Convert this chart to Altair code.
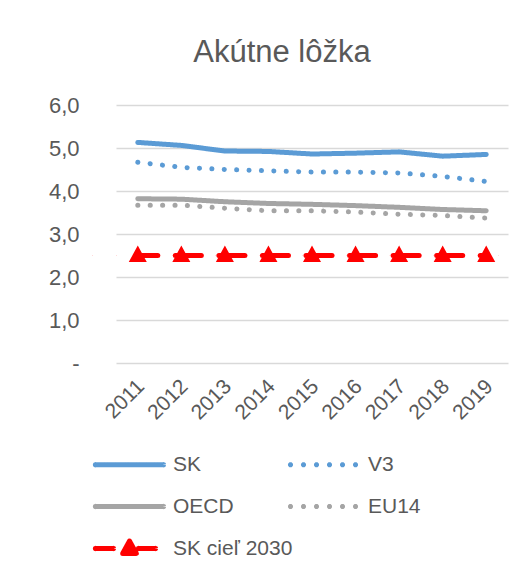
import math
import altair as alt
import pandas as pd

years = ["2011", "2012", "2013", "2014", "2015", "2016", "2017", "2018", "2019"]
sk = [5.13, 5.06, 4.93, 4.92, 4.86, 4.88, 4.91, 4.81, 4.85]
v3 = [4.67, 4.55, 4.50, 4.47, 4.44, 4.44, 4.42, 4.34, 4.22]
oecd = [3.82, 3.81, 3.75, 3.71, 3.69, 3.66, 3.62, 3.57, 3.54]
eu14 = [3.67, 3.67, 3.60, 3.54, 3.54, 3.51, 3.46, 3.43, 3.37]
target = [2.5, 2.5, 2.5, 2.5, 2.5, 2.5, 2.5, 2.5, 2.5]

SERIES = ["SK", "V3", "OECD", "EU14", "SK cieľ 2030"]
COLORS = ["#5B9BD5", "#5B9BD5", "#A5A5A5", "#A5A5A5", "#FF0000"]
TITLE = "Akútne lôžka"

rows = []
for name, vals in zip(SERIES, [sk, v3, oecd, eu14, target]):
    for yr, v in zip(years, vals):
        rows.append({"year": yr, "series": name, "value": v})
df = pd.DataFrame(rows)

FONT = "Liberation Sans Narrow, Arial Narrow, Liberation Sans, Arial"
TXT = "#595959"


def octo(cx, r):
    # small closed polygon (approximate circle) in symbol units
    pts = [(cx + r * math.cos(k * math.pi / 8), r * math.sin(k * math.pi / 8)) for k in range(16)]
    return "M" + "L".join(f"{x:.4f},{y:.4f}" for x, y in pts) + "Z"


CAP = 0.01   # tiny polygon: its 5px stroke gives a round end
DOT = 0.19   # filled dot, ~5px across at legend size
# legend / marker symbol shapes (unit-square custom paths)
LINE_PATH = "M-2.5,0H2.5" + octo(-2.5, CAP) + octo(2.5, CAP)
DOT_PATH = "".join(octo(c, DOT) for c in [-2.5, -1.544, -0.588, 0.368, 1.324, 2.28])
TRI_PATH = ("M-2.5,0H-1.18" + octo(-2.5, CAP) + octo(-1.18, CAP)
            + "M0.66,0H1.91" + octo(0.66, CAP) + octo(1.91, CAP)
            + "M-0.5,0.36L0,-0.55L0.5,0.36Z")
SHAPES = [LINE_PATH, DOT_PATH, LINE_PATH, DOT_PATH, TRI_PATH]
DASHES = [[1, 0], [0.001, 1000], [1, 0], [0.001, 1000], [1, 0]]
T = SERIES[4]

legend = alt.Legend(
    title=None,
    orient="none",
    legendX=-3,
    legendY=343,
    columns=2,
    direction="horizontal",
    symbolSize=740,
    symbolStrokeWidth=5,
    labelFont=FONT,
    labelFontSize=21,
    labelColor=TXT,
    labelOffset=27,
    columnPadding=-8,
    rowPadding=15,
    padding=0,
)

x_enc = alt.X(
    "year:O",
    scale=alt.Scale(padding=0.5),
    axis=alt.Axis(
        title=None, labelAngle=-45, labelAlign="right", labelBaseline="middle",
        domain=False, ticks=False, grid=False, labelPadding=20, labelOffset=3,
        labelFont=FONT, labelFontSize=21, labelColor=TXT,
    ),
)
y_enc = alt.Y(
    "value:Q",
    scale=alt.Scale(domain=[0, 6]),
    axis=alt.Axis(
        title=None, values=[0, 1, 2, 3, 4, 5, 6],
        labelExpr="datum.value == 0 ? '-' : replace(format(datum.value, '.1f'), '.', ',')",
        domain=False, ticks=False, labelPadding=37,
        labelFont=FONT, labelFontSize=22, labelColor=TXT,
        gridColor="#D9D9D9", gridWidth=1.5,
    ),
)
c_enc = alt.Color("series:N", scale=alt.Scale(domain=SERIES, range=COLORS), legend=legend)

base = alt.Chart(df).encode(x=x_enc, y=y_enc, color=c_enc)

solid = base.transform_filter(
    "datum.series === 'SK' || datum.series === 'OECD'"
).mark_line(strokeWidth=5, strokeCap="round", strokeJoin="round").encode(
    strokeDash=alt.StrokeDash("series:N", scale=alt.Scale(domain=SERIES, range=DASHES), legend=legend)
)

dotted = base.transform_filter(
    "datum.series === 'V3' || datum.series === 'EU14'"
).mark_line(strokeWidth=5, strokeCap="round", strokeDash=[0.1, 12.3])

tline = base.transform_filter(f"datum.series === '{T}'").mark_line(
    strokeWidth=5, strokeCap="round", strokeDash=[26, 17.56], strokeDashOffset=6
)
tpts = base.transform_filter(f"datum.series === '{T}'").mark_point(
    filled=True, size=1300, opacity=1, strokeWidth=0,
).encode(
    shape=alt.Shape("series:N", scale=alt.Scale(domain=SERIES, range=SHAPES), legend=legend)
)

chart = alt.layer(solid, dotted, tline, tpts).properties(
    width=392,
    height=258,
    title=alt.Title(TITLE, font=FONT, fontSize=31, fontWeight="normal", color=TXT,
                    anchor="middle", dx=-30, offset=25),
    autosize=alt.AutoSizeParams(type="none"),
    padding={"left": 108, "top": 97, "right": 8, "bottom": 207},
).configure_view(stroke=None).configure_line(
    strokeWidth=5, strokeCap="round", strokeJoin="round"
)

chart.save("out.html", embed_options={"renderer": "svg", "actions": False})
